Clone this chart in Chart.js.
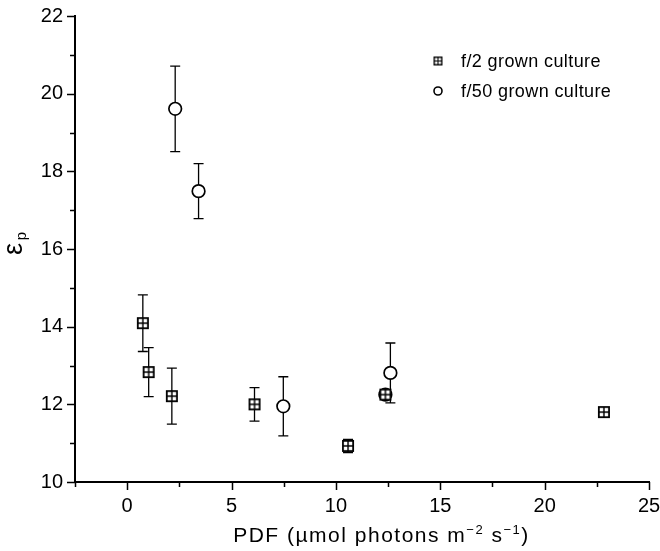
<!DOCTYPE html>
<html>
<head>
<meta charset="utf-8">
<script src="https://cdn.jsdelivr.net/npm/chart.js@4.4.0/dist/chart.umd.min.js"></script>
<style>
  html, body { margin: 0; padding: 0; background: #fff; }
  #wrap { width: 660px; height: 551px; }
</style>
</head>
<body>
<div id="wrap"><canvas id="mycanvas"></canvas></div>
<script>
// f/2 grown culture
var f2X   = [0.75, 1.03, 2.14, 6.1, 10.58, 12.37, 22.84];
var f2Y   = [14.09, 12.83, 12.21, 12.0, 10.93, 12.25, 11.8];
var f2Err = [0.73, 0.63, 0.72, 0.43, 0.17, 0, 0];

// f/50 grown culture
var f50X   = [2.3, 3.42, 7.48, 12.37, 12.61];
var f50Y   = [19.61, 17.49, 11.95, 12.25, 12.81];
var f50Err = [1.1, 0.71, 0.76, 0, 0.77];

var seriesNames = ['f/2 grown culture', 'f/50 grown culture'];
var xTicks = [0, 5, 10, 15, 20, 25];
var yTicks = [10, 12, 14, 16, 18, 20, 22];

var FONT = '"Liberation Sans", Arial, Helvetica, sans-serif';

function squareIcon(size, lw) {
	var c = document.createElement('canvas');
	c.width = size + 2; c.height = size + 2;
	var g = c.getContext('2d');
	var o = 1 + lw / 2, s = size - lw;
	g.fillStyle = '#fff';
	g.fillRect(o, o, s, s);
	g.strokeStyle = '#000';
	g.lineWidth = lw;
	g.strokeRect(o, o, s, s);
	g.lineWidth = lw * 0.8;
	g.beginPath();
	g.moveTo(c.width / 2, o); g.lineTo(c.width / 2, o + s);
	g.moveTo(o, c.height / 2); g.lineTo(o + s, c.height / 2);
	g.stroke();
	return c;
}
var bigSquare = squareIcon(12, 1.8);

function toPoints(xs, ys) {
	var out = [];
	for (var i in xs) out.push({x: xs[i], y: ys[i]});
	return out;
}

var errorBars = {
	id: 'errorBars',
	beforeDatasetsDraw: function(chart) {
		var ctx = chart.ctx, xs = chart.scales.x, ys = chart.scales.y;
		var sets = [[f2X, f2Y, f2Err], [f50X, f50Y, f50Err]];
		ctx.save();
		ctx.strokeStyle = '#000';
		ctx.lineWidth = 1.3;
		sets.forEach(function(s) {
			for (var i = 0; i < s[0].length; i++) {
				if (!s[2][i]) continue;
				var px = xs.getPixelForValue(s[0][i]);
				var top = ys.getPixelForValue(s[1][i] + s[2][i]);
				var bot = ys.getPixelForValue(s[1][i] - s[2][i]);
				ctx.beginPath();
				ctx.moveTo(px, top); ctx.lineTo(px, bot);
				ctx.moveTo(px - 5, top); ctx.lineTo(px + 5, top);
				ctx.moveTo(px - 5, bot); ctx.lineTo(px + 5, bot);
				ctx.stroke();
			}
		});
		ctx.restore();
	}
};

var axisDecor = {
	id: 'axisDecor',
	afterDraw: function(chart) {
		var ctx = chart.ctx, xs = chart.scales.x, ys = chart.scales.y;
		var a = chart.chartArea;
		ctx.save();
		ctx.strokeStyle = '#000';
		ctx.lineWidth = 1.5;
		ctx.beginPath();
		// x ticks, major and minor
		for (var v = -2.5; v <= 25.001; v += 2.5) {
			var px = Math.round(xs.getPixelForValue(v)) + 0.5;
			var len = (v % 5 === 0) ? 8 : 5;
			ctx.moveTo(px, a.bottom); ctx.lineTo(px, a.bottom + len);
		}
		for (var w = 10; w <= 22; w += 1) {
			var py = Math.round(ys.getPixelForValue(w)) + 0.5;
			var l2 = (w % 2 === 0) ? 8 : 5;
			ctx.moveTo(a.left, py); ctx.lineTo(a.left - l2, py);
		}
		ctx.stroke();

		// x axis title with superscripts
		ctx.fillStyle = '#000';
		ctx.textBaseline = 'alphabetic';
		ctx.textAlign = 'left';
		if ('letterSpacing' in ctx) ctx.letterSpacing = '1.5px';
		var parts = [
			['PDF (\u00b5mol photons m', 0],
			['\u22122', 1],
			[' s', 0],
			['\u22121', 1],
			[')', 0]
		];
		var total = 0;
		parts.forEach(function(p) {
			ctx.font = (p[1] ? '13px ' : '21px ') + FONT;
			p.push(ctx.measureText(p[0]).width);
			total += p[2];
		});
		var cx = 381.5 - total / 2, base = 541.5;
		parts.forEach(function(p) {
			ctx.font = (p[1] ? '13px ' : '21px ') + FONT;
			ctx.fillText(p[0], cx, p[1] ? base - 8 : base);
			cx += p[2];
		});
		if ('letterSpacing' in ctx) ctx.letterSpacing = '0px';

		// y axis title: epsilon with subscript p
		ctx.translate(15, 249);
		ctx.rotate(-Math.PI / 2);
		ctx.textAlign = 'center';
		ctx.textBaseline = 'middle';
		ctx.font = '27px ' + FONT;
		ctx.fillText('\u03b5', 0, 0);
		ctx.font = '15px ' + FONT;
		ctx.fillText('p', 13, 7);
		ctx.setTransform(1, 0, 0, 1, 0, 0);

		// legend
		ctx.textAlign = 'left';
		ctx.textBaseline = 'middle';
		ctx.font = '18px ' + FONT;
		if ('letterSpacing' in ctx) ctx.letterSpacing = '0.4px';
		var small = squareIcon(9, 1.4);
		ctx.drawImage(small, 438 - small.width / 2, 61 - small.height / 2);
		ctx.fillText(seriesNames[0], 461, 62);
		ctx.lineWidth = 1.6;
		ctx.beginPath();
		ctx.arc(438, 91, 4, 0, Math.PI * 2);
		ctx.fillStyle = '#fff';
		ctx.fill();
		ctx.stroke();
		ctx.fillStyle = '#000';
		ctx.fillText(seriesNames[1], 461, 92);
		if ('letterSpacing' in ctx) ctx.letterSpacing = '0px';
		ctx.restore();
	}
};

var ctx = document.getElementById('mycanvas');

var scatter = new Chart(ctx, {
	type: 'scatter',
	data: {
		datasets: [
			{
				label: seriesNames[0],
				data: toPoints(f2X, f2Y),
				pointStyle: bigSquare,
				pointRadius: 6,
				borderColor: '#000',
				backgroundColor: '#fff'
			},
			{
				label: seriesNames[1],
				data: toPoints(f50X, f50Y),
				pointStyle: 'circle',
				pointRadius: 6.3,
				borderWidth: 1.7,
				borderColor: '#000',
				backgroundColor: '#fff'
			}
		]
	},
	options: {
		responsive: true,
		maintainAspectRatio: false,
		animation: false,
		layout: { padding: { top: 16, right: 11, left: 0, bottom: 0 } },
		plugins: {
			legend: { display: false },
			tooltip: { enabled: false }
		},
		scales: {
			x: {
				type: 'linear',
				min: -2.5,
				max: 25,
				afterFit: function(s) {
					s.height = 69;
					s.paddingRight = 0;
				},
				afterBuildTicks: function(s) {
					s.ticks = xTicks.map(function(v) { return {value: v}; });
				},
				border: { display: true, color: '#000', width: 2 },
				grid: { drawOnChartArea: false, tickLength: 8, tickColor: 'rgba(0,0,0,0)' },
				ticks: {
					color: '#000',
					font: { family: FONT, size: 20 },
					padding: 4,
					maxRotation: 0,
					autoSkip: false
				}
			},
			y: {
				type: 'linear',
				min: 10,
				max: 22,
				afterFit: function(s) { s.width = 75; },
				afterBuildTicks: function(s) {
					s.ticks = yTicks.map(function(v) { return {value: v}; });
				},
				border: { display: true, color: '#000', width: 2 },
				grid: { drawOnChartArea: false, tickLength: 8, tickColor: 'rgba(0,0,0,0)' },
				ticks: {
					color: '#000',
					font: { family: FONT, size: 20 },
					padding: 4,
					autoSkip: false
				}
			}
		}
	},
	plugins: [errorBars, axisDecor]
});
</script>
</body>
</html>
